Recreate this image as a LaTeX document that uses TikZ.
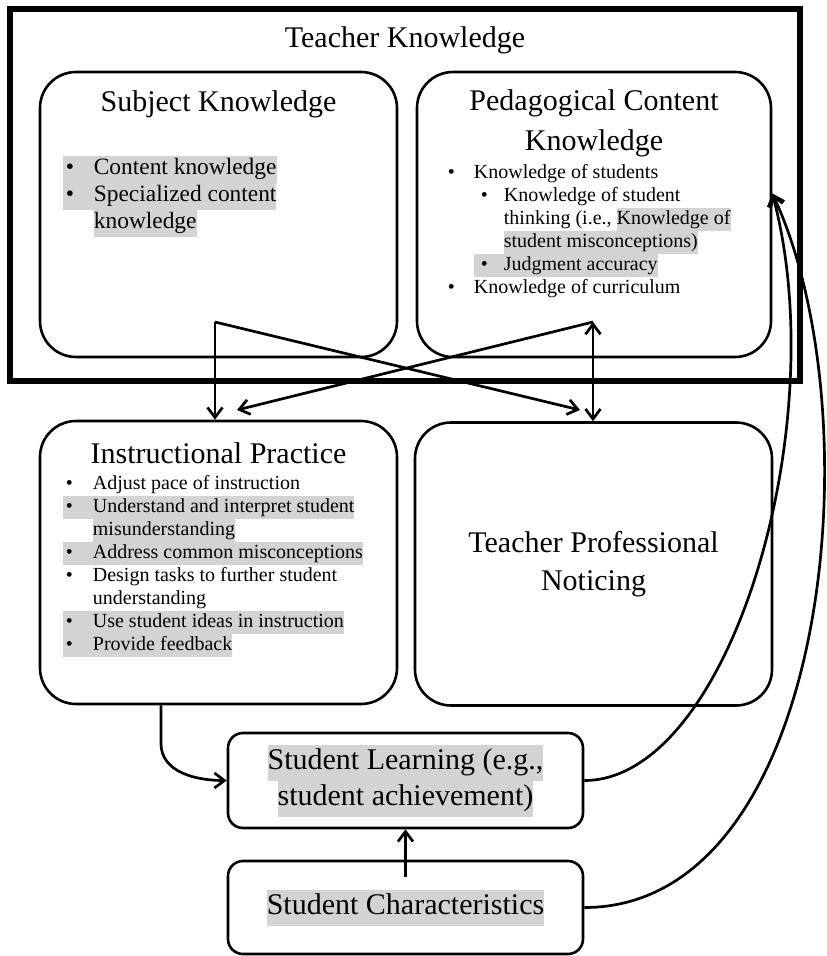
\documentclass[tikz,border=0pt]{standalone}
\usepackage{fontspec}
\setmainfont{Liberation Serif}
\usepackage{xcolor}
\definecolor{cLine}{HTML}{000000}
\definecolor{cHigh}{HTML}{D3D3D3}
\usetikzlibrary{positioning,arrows.meta,calc}
\newcommand{\hilite}[1]{{\setlength{\fboxsep}{0pt}\colorbox{cHigh}{\strut#1}}}
\newcommand{\blt}[2][3pt]{\makebox[#2][l]{\hspace*{#1}\textbullet}}
\tikzset{
  box-outer/.style={draw=cLine,line width=6.5pt,inner sep=0pt},
  box-big/.style={draw=cLine,line width=2.6pt,rounded corners=36pt,inner sep=0pt,
    minimum width=357pt,minimum height=284pt,align=center,
    font=\fontsize{30}{38}\selectfont},
  box-small/.style={draw=cLine,line width=2.6pt,rounded corners=15pt,inner sep=0pt,
    minimum width=355pt,minimum height=95pt,align=center,
    font=\fontsize{30}{36}\selectfont},
  title-text/.style={inner sep=0pt,align=center,font=\fontsize{30}{40}\selectfont},
  list-text/.style={inner sep=0pt,anchor=north west,align=left,
    font=\fontsize{20}{23}\selectfont},
  list-big/.style={list-text,font=\fontsize{23.4}{27}\selectfont},
  arrow/.style={-{Straight Barb[length=10pt,width=15pt]},line width=2.7pt,draw=cLine},
  arrow-both/.style={arrow,{Straight Barb[length=10pt,width=15pt]}-{Straight Barb[length=10pt,width=15pt]}},
}
\begin{document}
\begin{tikzpicture}[x=1pt,y=-1pt]
  \useasboundingbox (0,0) rectangle (827,956);
  % boxes
  \node[box-outer,minimum width=790pt,minimum height=372pt] (tk) at (405,195) {};
  \node[box-big,minimum height=285pt] (sk) at (218.5,214.5) {};
  \node[box-big,minimum width=354pt,minimum height=285pt] (pck) at (594,214.5) {};
  \node[box-big,minimum height=283pt] (ip) at (218.5,562.5) {};
  \node[box-big,minimum height=283pt] (tpn) at (593.5,564) {Teacher Professional\\Noticing};
  \node[box-small] (sl) at (405.5,780.5) {\hilite{Student Learning (e.g.,}\\\hilite{student achievement)}};
  \node[box-small,minimum height=93pt] (sc) at (405.5,907.5) {\hilite{Student Characteristics}};
  % titles
  \node[title-text] (tk-title) at ([yshift=-35pt]tk.north) {Teacher Knowledge};
  \node[title-text] (sk-title) at ([yshift=-34pt]sk.north) {Subject Knowledge};
  \node[title-text] (pck-title) at ([yshift=-53pt]pck.north) {Pedagogical Content\\Knowledge};
  \node[title-text] (ip-title) at ([yshift=-34pt]ip.north) {Instructional Practice};
  % lists
  \node[list-big] (sk-list) at ([shift={(24,85)}]sk.north west) {%
    \hilite{\blt{31pt}Content knowledge}\\
    \hilite{\blt{31pt}Specialized content}\\
    \strut\hspace*{31pt}\hilite{knowledge}};
  \node[list-text] (pck-list) at ([shift={(29,91)}]pck.north west) {%
    \strut\blt{29pt}Knowledge of students\\
    \strut\hspace*{29pt}\blt[7pt]{30pt}Knowledge of student\\
    \strut\hspace*{59pt}thinking (i.e., \hilite{Knowledge of}\\
    \strut\hspace*{59pt}\hilite{student misconceptions)}\\
    \strut\hspace*{29pt}\hilite{\blt[7pt]{30pt}Judgment accuracy}\\
    \strut\blt{29pt}Knowledge of curriculum};
  \node[list-text] (ip-list) at ([shift={(24,53)}]ip.north west) {%
    \strut\blt{30pt}Adjust pace of instruction\\
    \hilite{\blt{30pt}Understand and interpret student}\\
    \strut\hspace*{30pt}\hilite{misunderstanding}\\
    \hilite{\blt{30pt}Address common misconceptions}\\
    \strut\blt{30pt}Design tasks to further student\\
    \strut\hspace*{30pt}understanding\\
    \hilite{\blt{30pt}Use student ideas in instruction}\\
    \hilite{\blt{30pt}Provide feedback}};
  % connectors
  \coordinate (sk-out) at (215,322);
  \coordinate (pck-out) at (593,322);
  \coordinate (tpn-in) at (580,410);
  \coordinate (ip-in) at (237,410);
  \draw[arrow] (sk-out) -- (sk-out |- ip.north);
  \draw[arrow] (sk-out) -- (tpn-in);
  \draw[arrow-both] (pck-out) -- (pck-out |- tpn.north);
  \draw[arrow] (pck-out) -- (ip-in);
  \draw[arrow] ($(ip.south west)!0.34!(ip.south east)$) -- ++(0,38) to[out=-90,in=180] (sl.west);
  \draw[arrow] ([yshift=-17pt]sc.north) -- (sl.south);
  \draw[arrow] (sl.east) to[out=0,in=-75,out looseness=0.6,in looseness=1] ([yshift=21pt]pck.east);
  \draw[arrow] (sc.east) to[out=0,in=-65,looseness=0.85] ([yshift=21pt]pck.east);
\end{tikzpicture}
\end{document}
